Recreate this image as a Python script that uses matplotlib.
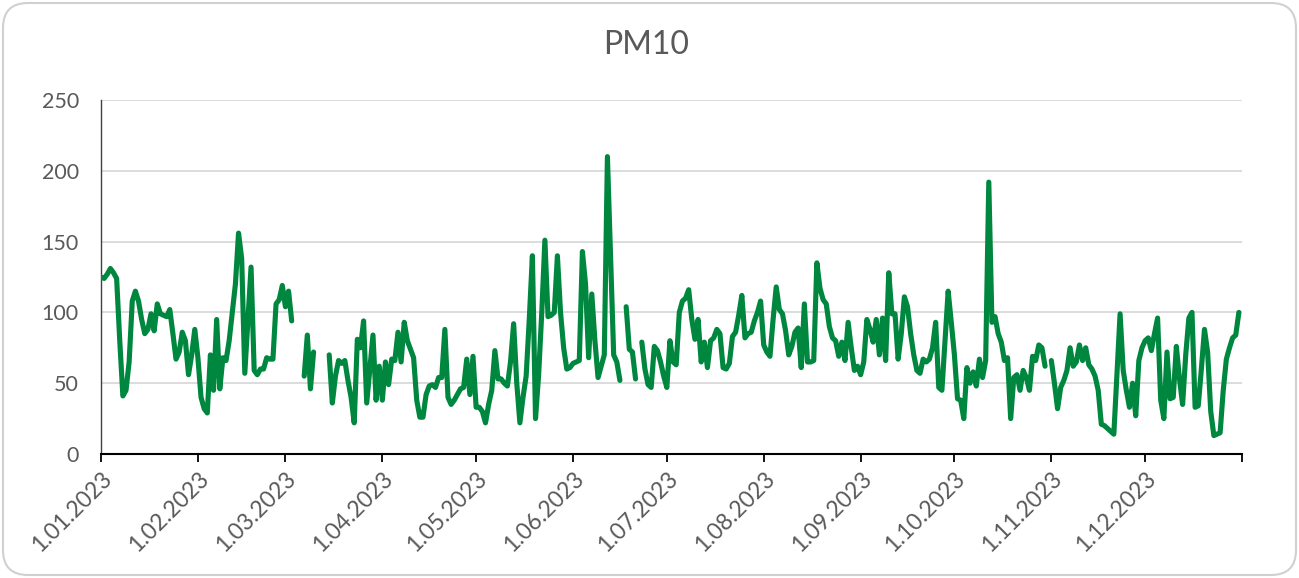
import numpy as np
import pandas as pd
import matplotlib
matplotlib.use("Agg")
import matplotlib.pyplot as plt
from matplotlib.patches import FancyBboxPatch

plt.rcParams['font.family'] = ['Lato', 'DejaVu Sans']

# daily PM10 values, None = no measurement
jan = [125, 124, 127, 131, 128, 124, 80, 41, 45, 65, 108, 115, 108, 95, 85, 88,
       99, 87, 106, 99, 98, 97, 102, 85, 67, 72, 86, 80, 56, 70, 88]
feb = [68, 40, 32, 29, 70, 45, 95, 46, 68, 66, 80, 100, 120, 156, 138, 57, 95,
       132, 59, 56, 60, 60, 68, 67, 67, 106, 109, 119]
mar = [104, 115, 94, None, None, None, 55, 84, 46, 72, None, None, None, None,
       70, 36, 55, 66, 64, 66, 52, 40, 22, 81, 75, 94, 36, 60, 84, 38, 62]
apr = [38, 65, 49, 67, 66, 86, 65, 93, 80, 74, 68, 38, 26, 26, 42, 48, 49, 47,
       54, 54, 88, 40, 35, 38, 42, 46, 47, 67, 42, 69]
may = [33, 33, 30, 22, 35, 45, 73, 53, 53, 50, 48, 65, 92, 50, 22, 40, 55, 95,
       140, 25, 56, 100, 151, 97, 98, 100, 140, 100, 75, 60, 61]
jun = [64, 65, 66, 143, 120, 68, 113, 80, 54, 62, 70, 210, 140, 70, 65, 52,
       None, 104, 74, 72, 53, None, 79, 60, 49, 47, 76, 73, 65, 55]
jul = [47, 80, 65, 63, 100, 108, 110, 116, 95, 81, 95, 65, 79, 61, 80, 82, 88,
       85, 61, 60, 64, 83, 86, 98, 112, 82, 85, 86, 94, 100, 108]
aug = [77, 72, 69, 95, 118, 102, 99, 87, 70, 76, 86, 89, 61, 106, 65, 65, 66,
       135, 117, 109, 106, 90, 82, 80, 69, 79, 66, 93, 75, 59, 62]
sep = [56, 65, 95, 88, 79, 95, 70, 96, 66, 128, 99, 99, 67, 85, 111, 104, 85,
       70, 59, 57, 67, 65, 67, 75, 93, 47, 45, 80, 115, 93]
oct_ = [70, 39, 38, 25, 61, 50, 58, 48, 67, 54, 66, 192, 93, 97, 85, 79, 66, 68,
        25, 54, 56, 45, 59, 54, 45, 69, 66, 77, 75, 62, None]
nov = [66, 50, 32, 47, 52, 59, 75, 62, 65, 77, 66, 75, 63, 60, 55, 45, 21, 20,
       18, 16, 14, 56, 99, 59, 45, 33, 50, 27, 66, 75]
dec = [80, 82, 73, 85, 96, 38, 25, 72, 39, 40, 76, 53, 35, 70, 96, 100, 33, 34,
       60, 88, 72, 30, 13, 14, 15, 45, 67, 75, 82, 84, 100]

tick_labels = ["1.01.2023", "1.02.2023", "1.03.2023", "1.04.2023", "1.05.2023",
               "1.06.2023", "1.07.2023", "1.08.2023", "1.09.2023", "1.10.2023",
               "1.11.2023", "1.12.2023", ""]
y_ticks = [0, 50, 100, 150, 200, 250]

values = jan + feb + mar + apr + may + jun + jul + aug + sep + oct_ + nov + dec
pm10 = np.array([np.nan if v is None else v for v in values], dtype=float)
dates = pd.date_range("2023-01-01", periods=len(pm10), freq="D")

green = '#00873F'
grey = '#595959'

fig = plt.figure(figsize=(12.99, 5.78), dpi=100)
ax = fig.add_axes([101 / 1299, 1 - 454 / 578, (1242 - 101) / 1299, (454 - 100) / 578])

ax.plot(dates, pm10, color=green, lw=3.7, solid_joinstyle='round',
        solid_capstyle='round', zorder=3)

ax.set_xlim(pd.Timestamp("2023-01-01"), pd.Timestamp("2024-01-01"))
ax.set_ylim(0, 250)
ax.set_yticks(y_ticks)
ax.yaxis.grid(True, color='#D9D9D9', lw=1.3)
ax.set_axisbelow(True)

month_starts = pd.date_range("2023-01-01", "2024-01-01", freq="MS")
ax.set_xticks(month_starts)
ax.set_xticklabels(tick_labels, rotation=45, ha='right', va='top',
                   rotation_mode='anchor', fontsize=16.5, color=grey)
ax.tick_params(axis='x', length=6, width=1.3, color='black', pad=4)
ax.tick_params(axis='y', length=0, pad=16, labelsize=15.5, labelcolor=grey)

for s in ['top', 'right']:
    ax.spines[s].set_visible(False)
ax.spines['bottom'].set_color('black')
ax.spines['bottom'].set_linewidth(1.5)
ax.spines['left'].set_color('#404040')
ax.spines['left'].set_linewidth(1.0)

fig.text(646 / 1299, 1 - 45 / 578, "PM10", ha='center', va='center',
         fontsize=23, color=grey)

border = FancyBboxPatch((0.03, 0.03), 12.93, 5.72,
                        boxstyle="round,pad=0,rounding_size=0.25",
                        transform=fig.dpi_scale_trans, fill=False,
                        edgecolor='#D0D0D0', lw=1.5)
fig.patches.append(border)

fig.savefig("out.png", dpi=100)
